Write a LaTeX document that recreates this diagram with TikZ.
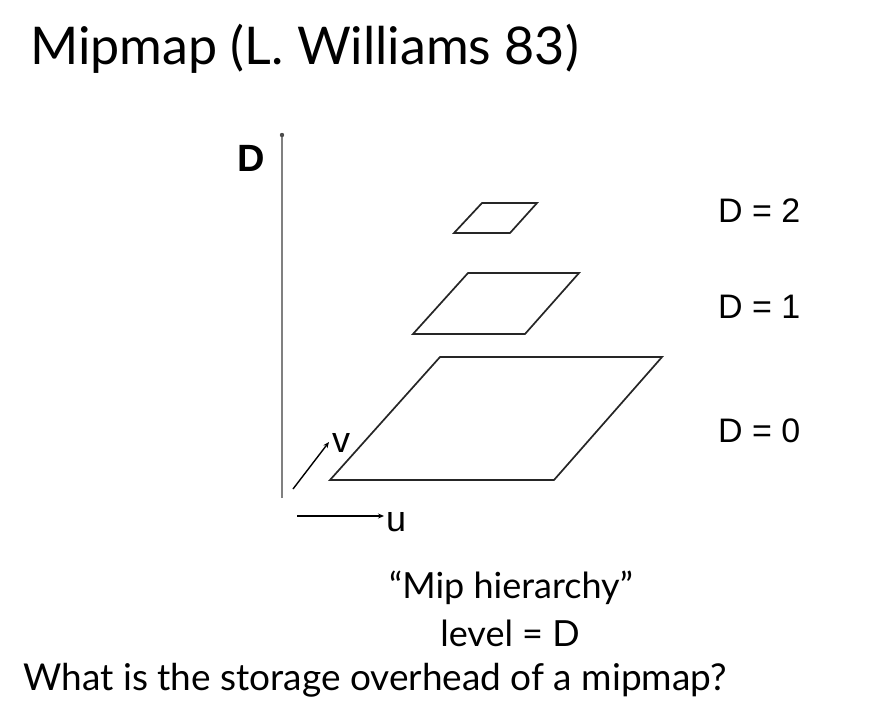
\documentclass[tikz,border=0pt]{standalone}
\usepackage{fontspec}
\setmainfont{Lato}
\newfontfamily\helv{Liberation Sans}
\usetikzlibrary{arrows.meta,positioning}

\tikzset{
  titulo/.style={font=\fontsize{52}{62}\selectfont, anchor=base west, inner sep=0pt},
  texto/.style={font=\fontsize{36}{43}\selectfont, inner sep=0pt},
  nivel/.style={font=\helv\fontsize{34}{40}\selectfont, anchor=base west, inner sep=0pt},
  eje/.style={font=\helv\fontsize{36}{43}\selectfont, inner sep=0pt},
  capa/.style={draw=black!85, line width=1.7pt, line join=miter},
  flecha/.style={line width=1.4pt, -{Stealth[length=6pt,width=5pt]}}
}

\begin{document}
\begin{tikzpicture}[x=1pt, y=-1pt]
        \useasboundingbox (0,0) rectangle (886,709);

        % Titulo
        \node[titulo] (tit) at (30,64) {Mipmap (L. Williams 83)};

        % Eje vertical D
        \coordinate (dtop) at (282,135);
        \coordinate (dbot) at (282,498);
        \draw[gray, line width=2pt] (dbot) -- (dtop);
        \fill[black!70] (dtop) circle (2.2pt);
        \node[font=\helv\bfseries\fontsize{38}{45}\selectfont, anchor=base, inner sep=0pt] (dlab) at (251,171) {D};

        % Ejes u y v
        \coordinate (v0) at (293,489);
        \coordinate (v1) at (329,442);
        \draw[flecha] (v0) -- (v1);
        \node[eje, anchor=base west] (vlab) at (332,452) {v};
        \coordinate (u0) at (297,516);
        \coordinate (u1) at (384,516);
        \draw[flecha] (u0) -- (u1);
        \node[eje, anchor=base west] (ulab) at (386,531) {u};

        % Niveles del mipmap
        \draw[capa] (330,480) -- (554,480) -- (662,357) -- (440,357) -- cycle;
        \draw[capa] (413,334) -- (525,334) -- (579,273) -- (468,273) -- cycle;
        \draw[capa] (454,233) -- (510,233) -- (537,203) -- (482,203) -- cycle;

        % Etiquetas de los niveles
        \node[nivel] (d2) at (718,222) {D = 2};
        \node[nivel] (d1) at (718,318) {D = 1};
        \node[nivel] (d0) at (718,442) {D = 0};

        % Texto inferior
        \node[texto, anchor=base] (mip) at (511,598) {“Mip hierarchy”};
        \node[texto, anchor=base] (lev) at (510,646) {level = D};
        \node[texto, font=\fontsize{37}{44}\selectfont, anchor=base east] (preg) at (727,690) {What is the storage overhead of a mipmap?};
\end{tikzpicture}
\end{document}
